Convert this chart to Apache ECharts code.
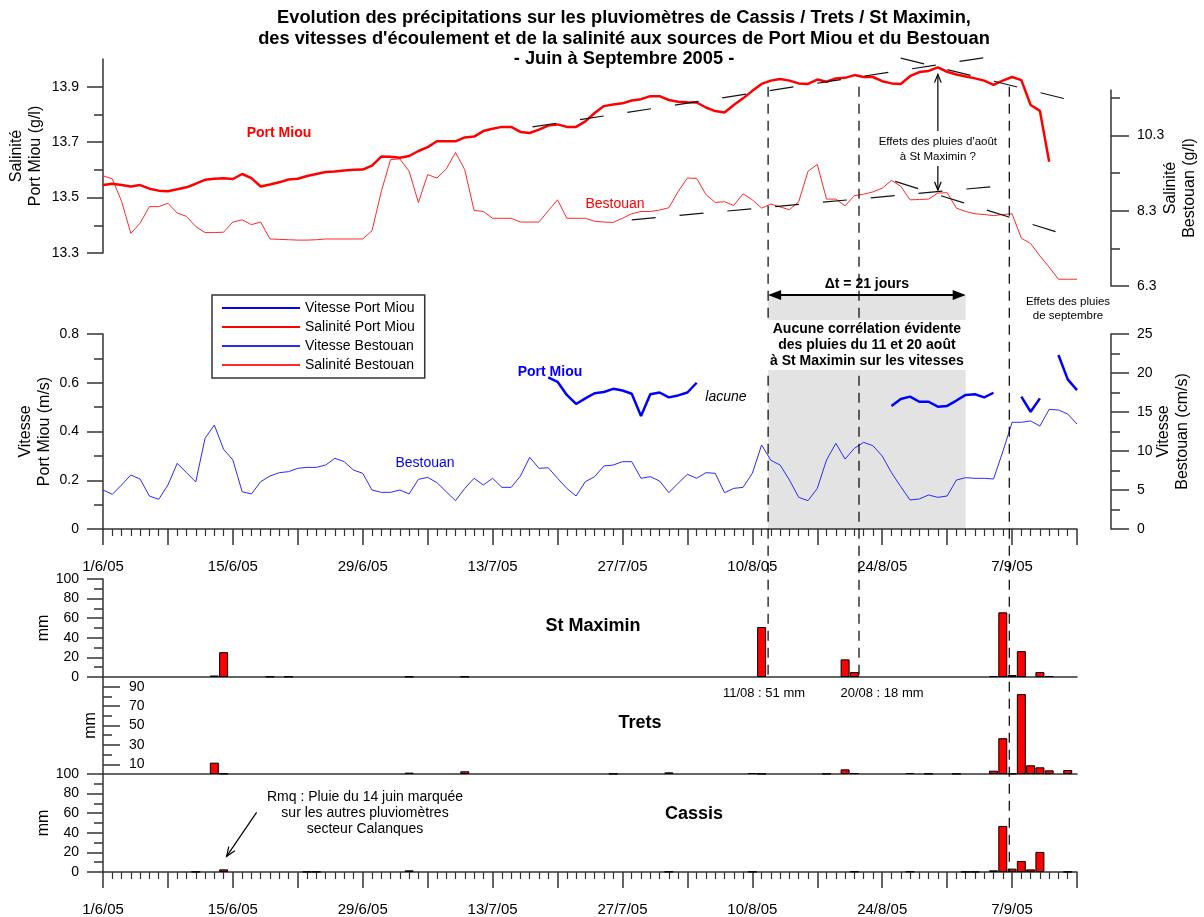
<!DOCTYPE html>
<html><head><meta charset="utf-8">
<script src="https://cdn.jsdelivr.net/npm/echarts@6/dist/echarts.min.js"></script>
<style>html,body{margin:0;padding:0;background:#fff}#c{width:1204px;height:917px}</style>
</head><body><div id="c"></div>
<script>
// ---------- DATA (day index 0 = 1/6/05) ----------
const dateLabelDays = [0,14,28,42,56,70,84,98];
// Salinité Port Miou (g/l), daily from day 0
const salPortMiou = [13.545,13.550,13.545,13.540,13.545,13.532,13.525,13.523,13.530,13.537,
 13.550,13.564,13.568,13.570,13.567,13.585,13.570,13.540,13.547,13.555,
 13.565,13.568,13.578,13.585,13.592,13.594,13.598,13.600,13.601,13.615,
 13.648,13.647,13.644,13.650,13.668,13.682,13.703,13.703,13.703,13.717,
 13.720,13.740,13.748,13.755,13.755,13.737,13.733,13.745,13.760,13.764,
 13.755,13.755,13.775,13.805,13.830,13.836,13.840,13.850,13.855,13.866,
 13.866,13.852,13.846,13.844,13.843,13.825,13.812,13.807,13.834,13.858,
 13.885,13.910,13.922,13.928,13.922,13.912,13.910,13.926,13.918,13.930,
 13.932,13.942,13.935,13.935,13.920,13.912,13.910,13.938,13.953,13.957,
 13.970,13.954,13.944,13.937,13.930,13.922,13.907,13.922,13.935,13.924,
 13.834,13.813,13.629];
// Salinité Bestouan (g/l), daily from day 0
const salBestouan = [9.23,9.15,8.55,7.70,7.97,8.41,8.41,8.50,8.24,8.15,
 7.88,7.72,7.72,7.73,8.00,8.06,7.93,8.00,7.55,7.54,
 7.53,7.52,7.52,7.53,7.55,7.55,7.55,7.55,7.55,7.77,
 8.81,9.66,9.68,9.35,8.52,9.26,9.17,9.41,9.85,9.39,
 8.31,8.28,8.10,8.10,8.10,8.00,8.00,8.00,8.30,8.59,
 8.10,8.10,8.10,8.02,8.00,7.99,8.10,8.22,8.28,8.28,
 8.32,8.38,8.81,9.17,9.16,8.73,8.52,8.54,8.44,8.75,
 8.59,8.37,8.48,8.40,8.33,8.54,9.35,9.53,8.61,8.61,
 8.43,8.70,8.74,8.80,8.90,9.11,8.95,8.59,8.60,8.61,
 8.77,8.78,8.37,8.28,8.22,8.20,8.17,8.20,8.22,7.57,
 7.43,7.10,6.80,6.48,6.48,6.48];
// Vitesse Port Miou (m/s): measured segments (gaps = lacune)
const vitPortMiouSegments = [
  {start:48, values:[0.622,0.604,0.550,0.513,0.536,0.557,0.562,0.575,0.568,0.555,0.464,0.553,0.560,0.540,0.548,0.560,0.600]},
  {start:85, values:[0.505,0.533,0.543,0.522,0.522,0.502,0.505,0.527,0.550,0.553,0.540,0.559]},
  {start:99, values:[0.543,0.481,0.536]},
  {start:103, values:[0.714,0.614,0.570]}
];
// Vitesse Bestouan (cm/s), daily from day 0
const vitBestouan = [5.00,4.45,5.64,6.92,6.41,4.23,3.80,5.64,8.42,7.22,
 6.03,11.63,13.33,10.22,8.85,4.78,4.49,6.07,6.79,7.22,
 7.35,7.78,7.90,7.90,8.20,9.06,8.63,7.56,7.14,5.00,
 4.70,4.70,5.00,4.49,6.37,6.62,5.94,4.78,3.63,5.21,
 6.50,5.64,6.50,5.34,5.34,6.79,9.19,7.78,7.85,6.50,
 5.21,4.23,6.07,6.71,8.08,8.20,8.63,8.63,6.50,6.71,
 6.15,4.66,5.86,7.01,6.50,7.22,7.14,4.66,5.21,5.34,
 7.14,10.77,8.80,8.20,6.28,4.06,3.63,5.21,8.85,10.98,
 8.97,10.34,11.11,10.68,9.36,7.22,5.43,3.72,3.85,4.36,
 4.06,4.23,6.28,6.58,6.50,6.50,6.41,9.91,13.68,13.68,
 13.85,13.20,15.34,15.26,14.74,13.46];
// Pluies journalières (mm): [day, mm]
const rainStMaximin = [[12,1.5],[13,25.3],[18,0.4],[20,0.4],[33,0.4],[39,0.4],[71,51],[80,18],[81,5],[96,1],[97,66],[98,2],[99,26.4],[101,5],[102,1]];
const rainTrets = [[12,11.7],[13,0.5],[33,1.4],[39,2.8],[55,0.3],[61,1.7],[70,1],[71,0.3],[78,0.3],[80,4.8],[81,1],[87,1],[89,0.3],[92,0.3],[96,3.4],[97,36.9],[98,0.5],[99,82.4],[100,9],[101,6.9],[102,3.8],[104,4.1]];
const rainCassis = [[10,0.2],[13,2.7],[22,0.2],[23,0.2],[33,1.7],[61,0.3],[70,0.3],[81,0.5],[87,0.5],[93,0.2],[94,0.2],[96,1.7],[97,47],[98,3.4],[99,11.3],[100,2.7],[101,20.5],[104,0.2]];
// Tendances (annotations, data coords)
const trendPortMiouUp = [[46.3,13.755],[96.4,14.012]];
const trendPortMiouDown = [[86.0,14.003],[104.0,13.854]];
const trendBestouanUp = [[57.0,8.06],[96.2,8.95]];
const trendBestouanDown = [[85.4,9.08],[103.4,7.69]];
// Repères temporels (day)
const eventDays = [71.7, 81.5, 97.7];
const deltaT = [71.7, 93.0];

// ---------- CHART ----------
const FONT = '"Liberation Sans", Arial, Helvetica, sans-serif';
const AX = '#333';
const chart = echarts.init(document.getElementById('c'), null, {renderer:'canvas'});

function dateLabel(v){ const d = new Date(2005,5,1+v); return d.getDate()+'/'+(d.getMonth()+1)+'/05'; }

function mkX(gridIndex, mode){
  return {
    type:'value', gridIndex, min:0, max:105, interval:7, show: mode!=='none',
    splitLine:{show:false},
    axisLine:{show:true, onZero:false, lineStyle:{color:AX, width:1.5}},
    axisTick:{show: mode==='full', length:16, lineStyle:{color:AX, width:1.5}},
    minorTick:{show: mode==='full', splitNumber:7, length:7, lineStyle:{color:AX, width:1.2}},
    minorSplitLine:{show:false},
    axisLabel:{show: mode==='full', margin:30, fontSize:15, color:'#000', fontFamily:FONT,
      formatter: v => (dateLabelDays.indexOf(v) >= 0 ? dateLabel(v) : '')}
  };
}
function mkY(gridIndex, o){
  const base = {type:'value', gridIndex, min:o.min, max:o.max, position:o.position||'left', offset:o.offset||0, splitLine:{show:false}};
  const major = Object.assign({}, base, {
    name:o.name||'', nameLocation:'middle', nameRotate:90, nameGap:o.nameGap||50, nameMoveOverlap:false,
    nameTextStyle:{fontSize:16, color:'#000', lineHeight:19, fontFamily:FONT},
    axisLine:{show:true, onZero:false, lineStyle:{color:AX, width:1.5}},
    axisTick:{show:true, inside:!!o.inside, length:o.majorLen||16, customValues:o.major, lineStyle:{color:AX, width:1.5}},
    axisLabel:{show:true, inside:!!o.inside, margin:o.margin||24, customValues:o.labels||o.major, formatter:o.fmt, fontSize:14, color:'#000', fontFamily:FONT}
  });
  const minor = Object.assign({}, base, {
    axisLine:{show:false, onZero:false}, axisLabel:{show:false},
    axisTick:{show:true, inside:!!o.inside, length:o.minorLen||9, customValues:o.minor, lineStyle:{color:AX, width:1.5}}
  });
  return [major, minor];
}

const L = 103, W = 974;
const grids = [
  {left:L, width:W, top:59, height:194},
  {left:L, width:W, top:90, height:196},
  {left:L, width:W, top:334, height:195},
  {left:L, width:W, top:579, height:98},
  {left:L, width:W, top:677, height:97},
  {left:L, width:W, top:774, height:98}
].map(g => Object.assign(g, {outerBoundsMode:'none', containLabel:false}));

const f1 = v => v.toFixed(1);
const yAxes = [].concat(
  mkY(0, {min:13.3, max:14.0, major:[13.3,13.5,13.7,13.9], minor:[13.4,13.6,13.8], fmt:f1, name:'Salinité\nPort Miou (g/l)', nameGap:58}),
  mkY(1, {min:6.3, max:11.51, position:'right', offset:34, major:[6.3,8.3,10.3], minor:[7.3,9.3,11.3], fmt:f1, majorLen:18, minorLen:9, margin:26, name:'Salinité\nBestouan (g/l)', nameGap:50}),
  mkY(2, {min:0, max:0.8, major:[0,0.2,0.4,0.6,0.8], minor:[0.1,0.3,0.5,0.7], fmt:v=>v===0?'0':v.toFixed(1), name:'Vitesse\nPort Miou (m/s)', nameGap:49}),
  mkY(2, {min:0, max:25, position:'right', offset:34, major:[0,5,10,15,20,25], minor:[2.5,7.5,12.5,17.5,22.5], fmt:v=>String(v), majorLen:18, minorLen:9, margin:26, name:'Vitesse\nBestouan (cm/s)', nameGap:43}),
  mkY(3, {min:0, max:100, major:[0,20,40,60,80,100], minor:[10,30,50,70,90], fmt:v=>String(v), name:'mm', nameGap:50}),
  mkY(4, {min:0, max:100, inside:true, major:[10,30,50,70,90], minor:[20,40,60,80], fmt:v=>String(v), majorLen:17, minorLen:9, margin:26, name:'mm', nameGap:3}),
  mkY(5, {min:0, max:100, major:[0,20,40,60,80,100], minor:[10,30,50,70,90], fmt:v=>String(v), name:'mm', nameGap:50})
);

function vitPMData(){
  const out = [];
  for (let d=0; d<=105; d++) out.push([d, null]);
  vitPortMiouSegments.forEach(s => s.values.forEach((v,i) => { out[s.start+i] = [s.start+i, v]; }));
  return out;
}
function lineS(name, xi, yi, data, color, width, extra){
  return Object.assign({name, type:'line', xAxisIndex:xi, yAxisIndex:yi, data, symbol:'none', showSymbol:false,
    lineStyle:{color, width}, itemStyle:{color}, animation:false, connectNulls:false}, extra||{});
}
function trendS(xi, yi, data){
  return {type:'line', xAxisIndex:xi, yAxisIndex:yi, data, symbol:'none', silent:true, clip:false, z:6,
    lineStyle:{color:'#111', width:1.2, type:[24,24]}, animation:false};
}
function barS(name, xi, yi, data){
  return {name, type:'bar', xAxisIndex:xi, yAxisIndex:yi, data, barWidth:9, animation:false,
    itemStyle:{color:'#ff0000', borderColor:'#000', borderWidth:1}};
}

const option = {
  animation:false,
  backgroundColor:'#fff',
  textStyle:{fontFamily:FONT},
  title:{text:"Evolution des précipitations sur les pluviomètres de Cassis / Trets / St Maximin,\ndes vitesses d'écoulement et de la salinité aux sources de Port Miou et du Bestouan\n- Juin à Septembre 2005 -",
    left:619, top:3, textAlign:'center',
    textStyle:{fontSize:18.3, fontWeight:'bold', color:'#000', lineHeight:20.5, fontFamily:FONT}},
  legend:{data:['Vitesse Port Miou','Salinité Port Miou','Vitesse Bestouan','Salinité Bestouan'],
    orient:'vertical', left:212, top:295, itemWidth:78, itemHeight:14, itemGap:5,
    padding:[6,10,6,9], borderColor:'#333', borderWidth:1.5, backgroundColor:'#fff',
    itemStyle:{opacity:0},
    textStyle:{fontSize:14, color:'#000', fontFamily:FONT}, selectedMode:false},
  grid: grids,
  xAxis:[mkX(0,'none'), mkX(1,'none'), mkX(2,'full'), mkX(3,'line'), mkX(4,'line'), mkX(5,'full')],
  yAxis: yAxes,
  series:[
    lineS('Salinité Port Miou', 0, 0, salPortMiou.map((v,i)=>[i,v]), '#ff0000', 2.5, {z:5}),
    lineS('Salinité Bestouan', 1, 2, salBestouan.map((v,i)=>[i,v]), '#ff2a2a', 1),
    lineS('Vitesse Port Miou', 2, 4, vitPMData(), '#0000ff', 2.5, {z:5}),
    lineS('Vitesse Bestouan', 2, 6, vitBestouan.map((v,i)=>[i,v]), '#2a2aff', 1),
    barS('St Maximin', 3, 8, rainStMaximin),
    barS('Trets', 4, 10, rainTrets),
    barS('Cassis', 5, 12, rainCassis),
    trendS(0, 0, trendPortMiouUp),
    trendS(0, 0, trendPortMiouDown),
    trendS(1, 2, trendBestouanUp),
    trendS(1, 2, trendBestouanDown)
  ]
};
chart.setOption(option);

// ---------- ANNOTATIONS (positioned via axes) ----------
const X = d => chart.convertToPixel({xAxisIndex:0}, d);
const Y = (ai, v) => chart.convertToPixel({yAxisIndex:ai}, v);

function arrow(x1,y1,x2,y2,head,filled){
  const ang = Math.atan2(y2-y1, x2-x1);
  const a1 = ang + Math.PI - 0.38, a2 = ang + Math.PI + 0.38;
  const p1 = [x2 + head*Math.cos(a1), y2 + head*Math.sin(a1)];
  const p2 = [x2 + head*Math.cos(a2), y2 + head*Math.sin(a2)];
  const els = [{type:'line', z:100, shape:{x1,y1,x2,y2}, style:{stroke:'#000', lineWidth:1.2}}];
  if (filled) els.push({type:'polygon', z:100, shape:{points:[[x2,y2],p1,p2]}, style:{fill:'#000'}});
  else els.push({type:'polyline', z:100, shape:{points:[p1,[x2,y2],p2]}, style:{stroke:'#000', lineWidth:1.2, fill:null}});
  return els;
}
function txt(x, y, text, o){
  return {type:'text', z:101, style:Object.assign({x, y, text, fill:'#000', fontFamily:FONT, fontSize:14, align:'center', verticalAlign:'middle'}, o||{})};
}

const g = [];
// shaded period Δt
const gx1 = X(deltaT[0]), gx2 = X(deltaT[1]);
const gyTop = Y(4, 0.96), gyBot = Y(4, 0);
g.push({type:'rect', z:-10, shape:{x:gx1, y:gyTop, width:gx2-gx1, height:gyBot-gyTop}, style:{fill:'#e3e3e3'}});
// vertical dashed event lines
const vTop = Y(0, 13.9);
eventDays.forEach((d,i) => {
  const yEnd = i < 2 ? Y(8, 0) : Y(12, 0);
  g.push({type:'line', z:90, shape:{x1:X(d), y1:vTop, x2:X(d), y2:yEnd}, style:{stroke:'#000', lineWidth:1.2, lineDash:[10,7]}});
});
// Δt arrow
const ay = gyTop;
g.push({type:'line', z:100, shape:{x1:gx1+2, y1:ay, x2:gx2-2, y2:ay}, style:{stroke:'#000', lineWidth:2}});
g.push({type:'polygon', z:100, shape:{points:[[gx1,ay],[gx1+13,ay-5],[gx1+13,ay+5]]}, style:{fill:'#000'}});
g.push({type:'polygon', z:100, shape:{points:[[gx2,ay],[gx2-13,ay-5],[gx2-13,ay+5]]}, style:{fill:'#000'}});
g.push(txt((gx1+gx2)/2, ay-11, 'Δt = 21 jours', {fontWeight:'bold', fontSize:14}));
g.push(txt((gx1+gx2)/2, Y(4,0.8)-14, 'Aucune corrélation évidente\ndes pluies du 11 et 20 août\nà St Maximin sur les vitesses',
  {fontWeight:'bold', fontSize:14, lineHeight:16, verticalAlign:'top', backgroundColor:'#fff', padding:[1,3]}));
// Effets des pluies d'août
const ex = X(90);
g.push(txt(ex, 149.5, "Effets des pluies d'août\nà St Maximin ?", {fontSize:11.5, lineHeight:15}));
g.push(...arrow(ex, 131, ex, Y(0, 13.945), 9, false));
g.push(...arrow(ex, 166, ex, Y(2, 8.85), 9, false));
// Effets des pluies de septembre
g.push(txt(1068, 309, 'Effets des pluies\nde septembre', {fontSize:11.5, lineHeight:14}));
// series labels
g.push(txt(279, 133, 'Port Miou', {fill:'#ff0000', fontWeight:'bold'}));
g.push(txt(615, 204, 'Bestouan', {fill:'#ff0000'}));
g.push(txt(550, 372, 'Port Miou', {fill:'#0000ff', fontWeight:'bold'}));
g.push(txt(726, 397, 'lacune', {fontStyle:'italic'}));
g.push(txt(425, 463, 'Bestouan', {fill:'#0000ff'}));
// rain panels
g.push(txt(593, 626, 'St Maximin', {fontWeight:'bold', fontSize:18}));
g.push(txt(764, 693, '11/08 : 51 mm', {fontSize:13}));
g.push(txt(882, 693, '20/08 : 18 mm', {fontSize:13}));
g.push(txt(640, 723, 'Trets', {fontWeight:'bold', fontSize:18}));
g.push(txt(694, 814, 'Cassis', {fontWeight:'bold', fontSize:18}));
g.push(txt(365, 813, 'Rmq : Pluie du 14 juin marquée\nsur les autres pluviomètres\nsecteur Calanques', {fontSize:14, lineHeight:16}));
const tipX = X(13) + 3, tipY = Y(12, 16);
g.push(...arrow(tipX + 30, tipY - 44, tipX, tipY, 10, false));

chart.setOption({graphic:{elements:g}});
</script>
</body></html>
